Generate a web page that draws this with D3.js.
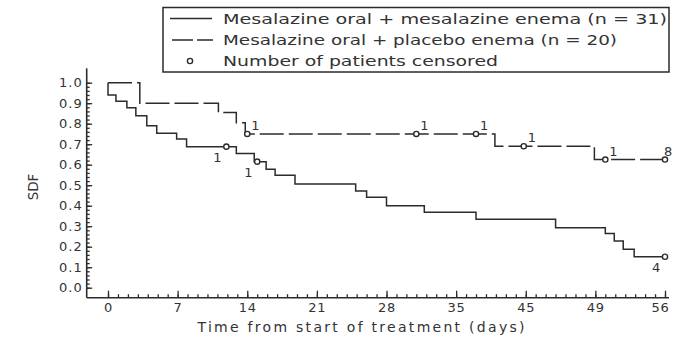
<!DOCTYPE html>
<html>
<head>
<meta charset="utf-8">
<script src="https://cdn.jsdelivr.net/npm/d3@7"></script>
<style>
  body { margin: 0; background: #fff; }
  text { font-family: "DejaVu Sans", sans-serif; fill: #333; }
</style>
</head>
<body>
<script>
// Kaplan-Meier steps
var enemaTimes = [0, 0, 0.8, 1.9, 2.8, 3.9, 4.9, 6.9, 7.9, 12.9, 14.7, 15.9, 16.8, 18.8, 24.9, 26, 28, 31.8, 37, 45, 50, 50.9, 51.8, 52.9, 56];
var enemaSurv  = [1.0, 0.94, 0.91, 0.878, 0.839, 0.79, 0.753, 0.725, 0.688, 0.655, 0.615, 0.578, 0.548, 0.506, 0.472, 0.441, 0.4, 0.368, 0.334, 0.293, 0.265, 0.228, 0.187, 0.151, 0.151];
var placeboTimes = [0, 3.2, 11.1, 12.9, 13.8, 38.9, 48.9, 56];
var placeboSurv  = [1.0, 0.9, 0.855, 0.805, 0.75, 0.69, 0.625, 0.625];

// censored patients: time, survival, count
var enemaCensT = [11.9, 15, 56];
var enemaCensS = [0.688, 0.615, 0.151];
var enemaCensN = ["1", "1", "4"];
var placeboCensT = [14, 31, 37, 41.8, 50, 56];
var placeboCensS = [0.75, 0.75, 0.75, 0.69, 0.625, 0.625];
var placeboCensN = ["1", "1", "1", "1", "1", "8"];

var xTicks = [0, 7, 14, 21, 28, 35, 42, 49, 56];
var xTickLabels = ["0", "7", "14", "21", "28", "35", "45", "49", "56"];
var yTicks = [0, 0.1, 0.2, 0.3, 0.4, 0.5, 0.6, 0.7, 0.8, 0.9, 1.0];

var legendLabels = ["Mesalazine oral + mesalazine enema (n = 31)",
                    "Mesalazine oral + placebo enema (n = 20)",
                    "Number of patients censored"];

var W = 673, H = 341;
var ink = "#2b2b2b";

var svg = d3.select("body").append("svg")
    .attr("width", W)
    .attr("height", H);

var x = d3.scaleLinear().domain([0, 56]).range([108, 665]);
var y = d3.scaleLinear().domain([0, 1]).range([287.7, 82.7]);

var axisY = 297.7, axisX = 86.7;

// x axis: minor ticks each day, major every week, ticks point up
svg.append("g")
    .attr("transform", "translate(0," + axisY + ")")
    .call(d3.axisBottom(x).tickValues(d3.range(0, 57, 1)).tickSize(-3.5).tickFormat(""))
    .call(g => g.select(".domain").remove());
var xa = svg.append("g")
    .attr("transform", "translate(0," + axisY + ")")
    .call(d3.axisBottom(x).tickValues(xTicks).tickSize(-7).tickPadding(5)
        .tickFormat((d, i) => xTickLabels[i]));
xa.select(".domain").remove();
xa.selectAll("text").style("font-size", "13px").style("letter-spacing", "0.8px").attr("fill", "#333");
// last label sits a little left of its tick so it stays inside the page
xa.selectAll("text").filter(d => d === 56).attr("dx", "-5");

// y axis: minor ticks every 0.02
svg.append("g")
    .attr("transform", "translate(" + axisX + ",0)")
    .call(d3.axisLeft(y).tickValues(d3.range(0, 51).map(d => d / 50)).tickSize(-3).tickFormat(""))
    .call(g => g.select(".domain").remove());
var ya = svg.append("g")
    .attr("transform", "translate(" + axisX + ",0)")
    .call(d3.axisLeft(y).tickValues(yTicks).tickSize(-5.5).tickPadding(4).tickFormat(d3.format(".1f")));
ya.select(".domain").remove();
ya.selectAll("text").style("font-size", "13px").style("letter-spacing", "1px").attr("fill", "#333");

svg.selectAll(".tick line").attr("stroke", ink).attr("stroke-width", 1.3);

// axis lines
svg.append("line")
    .attr("x1", axisX).attr("x2", axisX)
    .attr("y1", y(1.07)).attr("y2", axisY)
    .attr("stroke", ink).attr("stroke-width", 1.6);
svg.append("line")
    .attr("x1", axisX).attr("x2", x(56.4))
    .attr("y1", axisY).attr("y2", axisY)
    .attr("stroke", ink).attr("stroke-width", 1.6);

svg.append("text")
    .attr("transform", "translate(38,187) rotate(-90)")
    .attr("text-anchor", "middle")
    .style("font-size", "13.5px")
    .text("SDF");

svg.append("text")
    .attr("x", 361).attr("y", 332)
    .attr("text-anchor", "middle")
    .style("font-size", "14px")
    .attr("textLength", 327)
    .text("Time from start of treatment (days)");

// survival curves
var line = d3.line()
    .x(d => x(d[0]))
    .y(d => y(d[1]))
    .curve(d3.curveStepAfter);

svg.append("path")
    .datum(d3.zip(enemaTimes, enemaSurv))
    .attr("d", line)
    .attr("fill", "none")
    .attr("stroke", ink)
    .attr("stroke-width", 1.5);

svg.append("path")
    .datum(d3.zip(placeboTimes, placeboSurv))
    .attr("d", line)
    .attr("fill", "none")
    .attr("stroke", ink)
    .attr("stroke-width", 1.5)
    .attr("stroke-dasharray", "24,5");

// censor marks
function censor(ts, ss, ns, dx, dy) {
    var data = d3.zip(ts, ss, ns);
    svg.append("g").selectAll("circle")
        .data(data)
        .enter().append("circle")
        .attr("cx", d => x(d[0]))
        .attr("cy", d => y(d[1]))
        .attr("r", 2.6)
        .attr("fill", "#fff")
        .attr("stroke", ink)
        .attr("stroke-width", 1.4);
    svg.append("g").selectAll("text")
        .data(data)
        .enter().append("text")
        .attr("x", d => Math.min(x(d[0]) + dx, W - 9))
        .attr("y", d => y(d[1]) + dy)
        .style("font-size", "13px")
        .text(d => d[2]);
}
censor(placeboCensT, placeboCensS, placeboCensN, 4, -4);
censor(enemaCensT, enemaCensS, enemaCensN, -13, 15);

// legend
var lg = svg.append("g");
lg.append("rect")
    .attr("x", 163).attr("y", 7.5)
    .attr("width", 506).attr("height", 64.5)
    .attr("fill", "none")
    .attr("stroke", ink)
    .attr("stroke-width", 1.5);
var rowY = [18.5, 40, 61];
var textW = [444, 394, 275];
lg.append("line").attr("x1", 170).attr("x2", 212).attr("y1", rowY[0]).attr("y2", rowY[0])
    .attr("stroke", ink).attr("stroke-width", 1.5);
lg.append("line").attr("x1", 172).attr("x2", 213).attr("y1", rowY[1]).attr("y2", rowY[1])
    .attr("stroke", ink).attr("stroke-width", 1.5).attr("stroke-dasharray", "21,4");
lg.append("circle").attr("cx", 190).attr("cy", rowY[2]).attr("r", 2.6)
    .attr("fill", "#fff").attr("stroke", ink).attr("stroke-width", 1.4);
lg.selectAll("text.lbl")
    .data(legendLabels)
    .enter().append("text")
    .attr("class", "lbl")
    .attr("x", 223)
    .attr("y", (d, i) => rowY[i] + 5)
    .attr("textLength", (d, i) => textW[i])
    .attr("lengthAdjust", "spacingAndGlyphs")
    .style("font-size", "14px")
    .text(d => d);
</script>
</body>
</html>
